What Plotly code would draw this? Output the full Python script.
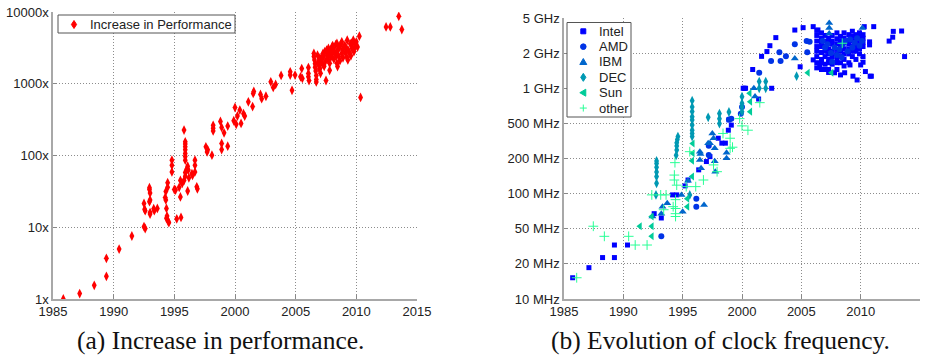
import math
import plotly.graph_objects as go

# ---------------------------------------------------------------------------
# (a) Increase in performance relative to the first processor (year, factor)
# ---------------------------------------------------------------------------
perf_points = [
    (1985.85, 1.0), (1987.2, 1.19), (1988.4, 1.55), (1989.4, 2.07), (1989.4, 3.69),
    (1990.45, 4.97), (1991.5, 7.55), (1992.5, 10.2), (1992.6, 9.6),
    (1992.5, 21.5), (1992.55, 17.8), (1992.6, 17.0), (1992.95, 33.6), (1992.95, 35.5),
    (1993.0, 30.0), (1992.95, 22.7), (1993.0, 24.0), (1993.0, 16.0), (1993.0, 15.3),
    (1993.3, 18.1), (1993.35, 17.0), (1993.6, 18.3),
    (1994.25, 26), (1994.3, 31.6), (1994.3, 24), (1994.35, 18.3), (1994.35, 13.3),
    (1994.4, 14.3), (1994.45, 41.7), (1994.45, 36), (1994.5, 12.1), (1994.55, 11.6),
    (1994.8, 59), (1994.8, 73), (1994.8, 86), (1995.0, 33.6), (1995.1, 33),
    (1995.2, 13.1), (1995.4, 36), (1995.5, 26.5), (1995.55, 13.7), (1995.5, 45),
    (1995.65, 40.8), (1995.8, 45), (1995.9, 51.5), (1995.9, 58), (1995.9, 86),
    (1995.9, 97), (1995.9, 107), (1995.9, 120), (1995.9, 132), (1995.9, 145),
    (1995.9, 155), (1995.8, 226), (1996.0, 61.6), (1996.1, 71), (1996.15, 62.7),
    (1996.1, 32), (1996.2, 49), (1996.45, 56), (1996.5, 53), (1996.7, 59),
    (1996.7, 73), (1996.7, 86), (1996.9, 34.3), (1996.85, 36.6), (1996.05, 66),
    (1997.6, 132), (1997.7, 112), (1997.75, 120), (1998.1, 101), (1998.2, 263),
    (1998.2, 220), (1998.2, 240), (1998.8, 298), (1998.9, 246), (1999.1, 207),
    (1998.9, 147), (1998.9, 121), (1999.4, 257), (1999.4, 135), (1999.9, 305),
    (2000.1, 272), (2000.2, 355), (2000.5, 280), (2000.0, 467), (2000.4, 429),
    (2000.7, 383), (2000.8, 355), (2001.1, 560), (2001.45, 480), (2001.5, 733),
    (2001.55, 780), (2002.1, 710), (2002.2, 620), (2002.55, 670), (2002.95, 1063),
    (2003.15, 888), (2003.35, 980), (2003.8, 1306), (2004.55, 1466), (2004.55, 1320),
    (2004.7, 810), (2004.95, 1320), (2005.4, 1250), (2005.5, 1630), (2005.55, 1186),
    (2006.05, 1680), (2006.05, 1390), (2006.1, 1110), (2006.05, 1250),
    (2006.5, 2640), (2006.5, 2400), (2006.55, 2150), (2006.6, 1900), (2006.6, 1700),
    (2006.65, 1500), (2006.7, 1300), (2006.7, 1150), (2006.7, 1060), (2006.8, 2500),
    (2006.85, 2000), (2006.9, 1820), (2006.95, 1600), (2007.0, 1630), (2007.0, 2300),
    (2007.05, 1400), (2007.1, 2100), (2007.15, 2230), (2007.2, 1900), (2007.25, 2640),
    (2007.3, 2400), (2007.35, 1750), (2007.4, 2800), (2007.45, 2050), (2007.5, 1110),
    (2007.55, 2940), (2007.6, 2500), (2007.65, 2200), (2007.7, 3100), (2007.75, 2700),
    (2007.8, 1540), (2007.8, 1930), (2007.85, 2940), (2007.9, 2350), (2008.0, 3250),
    (2008.0, 2600), (2008.05, 3400), (2008.1, 3090), (2008.15, 2200), (2008.2, 2800),
    (2008.3, 3500), (2008.35, 2450), (2008.4, 3650), (2008.4, 2790), (2008.4, 1930),
    (2008.45, 1740), (2008.5, 3000), (2008.55, 2400), (2008.6, 3250), (2008.65, 2100),
    (2008.7, 3500), (2008.8, 3840), (2008.8, 2640), (2008.85, 2950), (2008.9, 2300),
    (2009.0, 3300), (2009.05, 3420), (2009.1, 2700), (2009.2, 3090), (2009.2, 2370),
    (2009.25, 4040), (2009.3, 2150), (2009.35, 2900), (2009.45, 2640), (2009.5, 3600),
    (2009.55, 2450), (2009.6, 3650), (2009.65, 3100), (2009.75, 3840), (2009.75, 4040),
    (2009.8, 2800), (2009.9, 3250), (2009.95, 3500), (2010.0, 3840), (2010.1, 3250),
    (2010.25, 4600), (2010.35, 645), (2012.45, 6200), (2012.8, 6200), (2013.5, 8700),
    (2013.75, 5700),
]

perf_ticks = [1, 10, 100, 1000, 10000]
perf_ticktext = ["1x", "10x", "100x", "1000x", "10000x"]
perf_label = "Increase in Performance"

# ---------------------------------------------------------------------------
# (b) Clock frequency per vendor (year, MHz)
# ---------------------------------------------------------------------------
intel_points = [
    (1985.73, 16), (1987.1, 20), (1988.25, 25), (1989.25, 25), (1989.25, 33),
    (1990.35, 33), (1992.6, 66), (1993.2, 60), (1994.15, 100), (1994.5, 100),
    (1995.2, 122), (1995.45, 139), (1996.35, 174), (1997.0, 209), (1997.3, 233),
    (1998.0, 350), (1998.3, 314), (1998.6, 314), (1998.85, 418), (1999.1, 468),
    (1998.9, 525), (2000.1, 1057), (2000.2, 1057), (2000.3, 1057), (2001.4, 833),
    (2002.5, 1057), (2000.9, 1600), (2001.65, 2140), (2002.1, 2380), (2002.35, 2710),
    (2002.85, 3240), (2004.45, 3830), (2005.15, 4040), (2004.9, 1700), (2006.0, 4130),
    (2006.4, 3840), (2006.0, 1980), (2006.55, 1700), (2007.8, 1490), (2008.3, 1420),
    (2008.65, 1490), (2009.35, 1380), (2009.7, 1270), (2010.0, 1770), (2010.2, 1880),
    (2010.4, 1530), (2010.75, 2950), (2010.75, 2760), (2010.8, 1380), (2010.9, 1380),
    (2011.1, 4130), (2010.3, 4130), (2012.4, 3000), (2012.7, 3270), (2012.75, 3720),
    (2013.45, 3750), (2013.7, 2130), (2009.65, 3360), (2009.1, 1770),
    (2006.3, 3800), (2006.3, 3400), (2006.3, 3000), (2006.3, 2660), (2006.3, 2400),
    (2006.3, 2130), (2006.3, 1860), (2006.3, 1660),
    (2006.7, 3600), (2006.7, 3200), (2006.7, 2930), (2006.7, 2660), (2006.7, 2330),
    (2006.7, 2000), (2006.7, 1860), (2006.7, 1600),
    (2007.0, 3400), (2007.0, 3000), (2007.0, 2660), (2007.0, 2400), (2007.0, 2130),
    (2007.0, 1800), (2007.0, 1600),
    (2007.3, 3200), (2007.3, 2930), (2007.3, 2500), (2007.3, 2260), (2007.3, 2000),
    (2007.3, 1860), (2007.3, 1600), (2007.3, 1500),
    (2007.6, 3400), (2007.6, 3000), (2007.6, 2800), (2007.6, 2400), (2007.6, 2130),
    (2007.6, 1800),
    (2008.0, 3600), (2008.0, 3160), (2008.0, 2830), (2008.0, 2500), (2008.0, 2260),
    (2008.0, 2000), (2008.0, 1860), (2008.0, 1600),
    (2008.3, 3330), (2008.3, 3000), (2008.3, 2660), (2008.3, 2400), (2008.3, 2130),
    (2008.3, 1860),
    (2008.6, 3600), (2008.6, 3200), (2008.6, 2930), (2008.6, 2530), (2008.6, 2260),
    (2008.6, 2000), (2008.6, 1730),
    (2009.0, 3460), (2009.0, 3060), (2009.0, 2800), (2009.0, 2500), (2009.0, 2260),
    (2009.0, 1860),
    (2009.3, 3730), (2009.3, 3330), (2009.3, 3000), (2009.3, 2660), (2009.3, 2400),
    (2009.3, 2130),
    (2009.6, 3460), (2009.6, 3200), (2009.6, 2930), (2009.6, 2660), (2009.6, 2400),
    (2009.6, 2000),
    (2009.9, 3600), (2009.9, 3330), (2009.9, 3060), (2009.9, 2800), (2009.9, 2530),
    (2009.9, 2260),
    (2010.2, 3460), (2010.2, 3200), (2010.2, 2930), (2010.2, 2660), (2010.2, 2130),
]

amd_points = [
    (1993.2, 40), (1996.15, 92), (1996.15, 77), (1997.2, 241), (1997.2, 296),
    (1998.9, 531), (1999.1, 540), (1999.9, 600), (2000.0, 700), (2001.45, 1490),
    (2002.45, 1930), (2003.15, 2350), (2003.25, 1930), (2003.7, 2140), (2004.45, 2800),
    (2005.45, 3000), (2005.5, 2340), (2005.7, 2950),
    (2006.8, 3000), (2007.0, 2600), (2007.2, 2800), (2007.5, 2300), (2007.8, 2600),
    (2008.0, 2200), (2008.2, 2500), (2008.5, 2800), (2008.7, 3000), (2008.9, 2400),
    (2009.1, 3100), (2009.3, 2600), (2009.5, 2900), (2009.7, 3200), (2009.9, 2700),
    (2010.1, 3000), (2008.4, 2100), (2007.6, 1900),
]

ibm_points = [
    (1992.45, 62), (1993.2, 66), (1993.3, 77), (1993.7, 83), (1994.9, 100),
    (1995.0, 69), (1996.8, 80), (1995.45, 137), (1996.55, 180), (1996.5, 247),
    (1996.45, 216), (1996.45, 260), (1997.15, 314), (1997.3, 314), (1997.5, 389),
    (1997.6, 350), (1997.7, 281), (1997.7, 210), (1997.75, 167), (1998.7, 225),
    (1998.7, 254), (2001.0, 1057), (2001.1, 879), (2004.45, 2040), (2007.35, 4470),
    (2007.35, 4000), (2007.35, 3550), (2010.15, 4000),
]

dec_points = [
    (1992.75, 100), (1992.8, 129), (1992.8, 150), (1992.8, 166), (1992.8, 184),
    (1992.8, 200), (1992.8, 212), (1994.45, 240), (1994.5, 270), (1994.5, 295),
    (1994.5, 316), (1994.55, 340), (1994.6, 363), (1995.6, 100), (1995.8, 363),
    (1995.8, 389), (1995.8, 418), (1995.8, 468), (1995.8, 525), (1995.8, 563),
    (1995.8, 631), (1995.8, 700), (1995.8, 803), (1997.15, 556), (1998.1, 604),
    (1998.1, 540), (1998.1, 484), (1998.9, 625), (2000.0, 877), (2000.0, 760),
    (2000.0, 700), (2000.0, 630), (2001.45, 1225), (2001.45, 1057), (2002.0, 1225),
    (2002.0, 1057), (2004.6, 1380),
]

sun_points = [
    (1991.4, 50), (1992.4, 50), (1992.4, 40), (1992.4, 62), (1995.4, 77),
    (1995.4, 92), (1995.8, 150), (1995.8, 213), (1995.85, 251), (1995.85, 311),
    (2000.65, 946), (2000.7, 785), (2000.7, 630), (2005.55, 1490), (2007.55, 1490),
]

other_points = [
    (1986.07, 16), (1987.47, 50), (1988.4, 40), (1990.45, 40), (1991.0, 33),
    (1992.0, 33), (1992.4, 100), (1993.15, 100), (1993.6, 100), (1993.4, 72),
    (1994.2, 77), (1994.4, 66), (1994.4, 62), (1994.3, 139), (1994.5, 124),
    (1994.3, 155), (1994.35, 204), (1994.4, 90), (1994.4, 74), (1995.3, 120),
    (1996.1, 120), (1996.75, 139), (1995.6, 260), (1997.9, 167), (1997.6, 194),
    (1999.2, 287), (1999.0, 280), (1998.4, 389), (1999.0, 350), (1999.8, 540),
    (2000.0, 460), (2000.5, 418), (2001.5, 769), (2008.45, 2860),
]

clock_ticktext = ["10 MHz", "20 MHz", "50 MHz", "100 MHz", "200 MHz",
                  "500 MHz", "1 GHz", "2 GHz", "5 GHz"]
clock_min_mhz, clock_max_mhz = 10, 5000

year_ticks = [1985, 1990, 1995, 2000, 2005, 2010, 2015]

# vendor name, points, marker symbol, size, colour (winter colour map)
vendors = [
    ("Intel", intel_points, "square", 5, "rgb(0,0,255)"),
    ("AMD", amd_points, "circle", 6, "rgb(0,51,230)"),
    ("IBM", ibm_points, "triangle-up", 7, "rgb(0,102,204)"),
    ("DEC", dec_points, "diamond-tall", 7, "rgb(0,153,179)"),
    ("Sun", sun_points, "triangle-left", 7, "rgb(0,204,153)"),
    ("other", other_points, "cross-thin-open", 7, "rgb(40,255,150)"),
]

W, H = 934, 356
fig = go.Figure()

fig.add_trace(go.Scatter(
    x=[p[0] for p in perf_points], y=[p[1] for p in perf_points],
    mode="markers", name=perf_label,
    marker=dict(symbol="diamond-tall", size=7, color="#ff0000"),
    xaxis="x", yaxis="y",
))

for name, pts, sym, size, col in vendors:
    marker = dict(symbol=sym, size=size, color=col)
    if sym.endswith("open"):
        marker["line"] = dict(width=1, color=col)
    fig.add_trace(go.Scatter(
        x=[p[0] for p in pts], y=[p[1] for p in pts],
        mode="markers", name=name, marker=marker,
        xaxis="x2", yaxis="y2",
    ))

# Evenly spaced labelled ticks across the clock-frequency range
lo, hi = math.log10(clock_min_mhz), math.log10(clock_max_mhz)
n = len(clock_ticktext) - 1
clock_tickvals = [10 ** (lo + k * (hi - lo) / n) for k in range(n + 1)]

sans = "Liberation Sans, Arial, sans-serif"
tick_font = dict(family=sans, size=13, color="#222")
axis_style = dict(showgrid=True, gridcolor="#8c8c8c", griddash="1px,2px", gridwidth=1,
                  showline=True, linecolor="#a8a8a8", linewidth=1.5,
                  ticks="inside", ticklen=4, tickcolor="#888", tickfont=tick_font,
                  zeroline=False, mirror=False, automargin=False)


def px_x(a, b):
    return [a / W, b / W]


def px_y(top, bottom):
    return [1 - bottom / H, 1 - top / H]


def paper(xp, yp):
    return xp / W, 1 - yp / H


fig.update_layout(
    width=W, height=H, margin=dict(l=0, r=0, t=0, b=0, autoexpand=False),
    paper_bgcolor="white", plot_bgcolor="white", showlegend=False,
    xaxis=dict(domain=px_x(53, 417), range=[1985, 2015], tickvals=year_ticks,
               anchor="y", **axis_style),
    yaxis=dict(domain=px_y(12, 299), type="log", range=[0, 4], tickvals=perf_ticks,
               ticktext=perf_ticktext, anchor="x", **axis_style),
    xaxis2=dict(domain=px_x(564, 920), range=[1985, 2015], tickvals=year_ticks,
                anchor="y2", **axis_style),
    yaxis2=dict(domain=px_y(18, 299), type="log", range=[lo, hi],
                tickvals=clock_tickvals, ticktext=clock_ticktext, anchor="x2", **axis_style),
)

# ---------------------------------------------------------------------------
# Compact legend boxes (drawn as shapes + text, pixel layout)
# ---------------------------------------------------------------------------
shapes = []


def box(x0, y0, x1, y1):
    a = paper(x0, y0)
    b = paper(x1, y1)
    shapes.append(dict(type="rect", xref="paper", yref="paper",
                       x0=a[0], y0=b[1], x1=b[0], y1=a[1],
                       line=dict(color="#555", width=1), fillcolor="white", layer="above"))


def poly(pts, col, filled=True):
    p = [paper(x, y) for x, y in pts]
    path = "M " + " L ".join(f"{x:.5f},{y:.5f}" for x, y in p) + (" Z" if filled else "")
    shapes.append(dict(type="path", xref="paper", yref="paper", path=path,
                       fillcolor=col if filled else "rgba(0,0,0,0)",
                       line=dict(color=col, width=1), layer="above"))


def legend_symbol(sym, cx, cy, col):
    if sym == "square":
        poly([(cx - 2.5, cy - 2.5), (cx + 2.5, cy - 2.5), (cx + 2.5, cy + 2.5), (cx - 2.5, cy + 2.5)], col)
    elif sym == "circle":
        a, b = paper(cx - 2.8, cy - 2.8), paper(cx + 2.8, cy + 2.8)
        shapes.append(dict(type="circle", xref="paper", yref="paper",
                           x0=a[0], y0=b[1], x1=b[0], y1=a[1],
                           fillcolor=col, line=dict(color=col, width=1), layer="above"))
    elif sym == "triangle-up":
        poly([(cx, cy - 3.5), (cx + 3.5, cy + 2.5), (cx - 3.5, cy + 2.5)], col)
    elif sym == "diamond-tall":
        poly([(cx, cy - 4), (cx + 2.6, cy), (cx, cy + 4), (cx - 2.6, cy)], col)
    elif sym == "triangle-left":
        poly([(cx - 3.5, cy), (cx + 2.5, cy - 3.5), (cx + 2.5, cy + 3.5)], col)
    else:
        poly([(cx - 3.5, cy), (cx + 3.5, cy)], col, filled=False)
        poly([(cx, cy - 3.5), (cx, cy + 3.5)], col, filled=False)


legend_font = dict(family=sans, size=13, color="#222")

# (a) legend
box(58, 15, 235, 33)
legend_symbol("diamond-tall", 74, 24.5, "#ff0000")
lx, ly = paper(88, 24.5)
fig.add_annotation(text=perf_label, x=lx, y=ly, xref="paper", yref="paper",
                   xanchor="left", yanchor="middle", showarrow=False, font=legend_font)

# (b) legend
box(567, 22.5, 631, 117)
for i, (name, _, sym, _, col) in enumerate(vendors):
    cy = 31.3 + i * 15.35
    legend_symbol(sym, 583.3, cy, col)
    tx, ty = paper(597, cy)
    fig.add_annotation(text=name, x=tx, y=ty, xref="paper", yref="paper",
                       xanchor="left", yanchor="middle", showarrow=False, font=legend_font)

fig.update_layout(shapes=shapes)

# Sub-figure captions
caption_font = dict(family="Liberation Serif, Times New Roman, serif", size=25.5, color="#111")
for text, cx in [("(a) Increase in performance.", 220),
                 ("(b) Evolution of clock frequency.", 720)]:
    x, y = paper(cx, 340)
    fig.add_annotation(text=text, x=x, y=y, xref="paper", yref="paper",
                       xanchor="center", yanchor="middle", showarrow=False, font=caption_font)

fig.write_html("out.html")
